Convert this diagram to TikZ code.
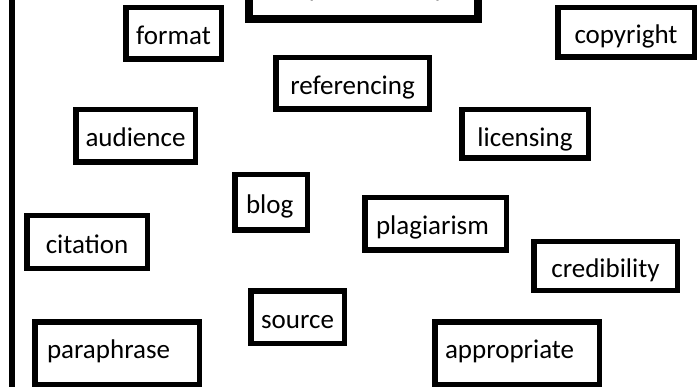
\documentclass[tikz,border=0pt]{standalone}
\usepackage{fontspec}
\setmainfont{Carlito}
\tikzset{
  wordbox/.style={draw=black, line width=5.5pt, fill=white, inner sep=0pt,
    font=\fontsize{27}{31}\selectfont, text=black, text height=22pt, text depth=0pt},
  titlebox/.style={wordbox, line width=8pt},
  leftset/.style={text width=#1, align=left}
}
\begin{document}
\begin{tikzpicture}[x=1pt,y=-1pt]
\useasboundingbox (0,0) rectangle (698,387);
\clip (0,0) rectangle (698,387);
\fill[white] (0,0) rectangle (698,387);
% left rule
\coordinate (ltop) at (12,-5);
\coordinate (lbot) at (12,392);
\draw[line width=6pt] (ltop) -- (lbot);
% title box (cut off at the top)
\node[titlebox, minimum width=229pt, minimum height=72pt] (title) at (363.5,-17) {};
\node[font=\fontsize{27}{31}\selectfont, inner sep=0pt, anchor=base] (titletext) at (363.5,-3) {Key vocabulary};
% word boxes
\node[wordbox, minimum width=95.5pt, minimum height=51.5pt] (format) at (173.5,33.5) {format};
\node[wordbox, minimum width=153.5pt, minimum height=51.5pt] (referencing) at (352.5,83.5) {referencing};
\node[wordbox, minimum width=136.5pt, minimum height=49.5pt] (copyright) at (626,32.5) {copyright};
\node[wordbox, minimum width=119.5pt, minimum height=52.5pt] (audience) at (135.5,136) {audience};
\node[wordbox, minimum width=126.5pt, minimum height=48.5pt, text height=25pt] (licensing) at (525,134) {licensing};
\node[wordbox, minimum width=72.5pt, minimum height=55.5pt, leftset=50pt] (blog) at (271,202.5) {blog};
\node[wordbox, minimum width=120.5pt, minimum height=52.5pt] (citation) at (87,242) {citation};
\node[wordbox, minimum width=141.5pt, minimum height=52.5pt, leftset=119pt] (plagiarism) at (435.5,224) {plagiarism};
\node[wordbox, minimum width=143.5pt, minimum height=48.5pt] (credibility) at (605.5,266) {credibility};
\node[wordbox, minimum width=93.5pt, minimum height=52.5pt] (source) at (297.5,317) {source};
\node[wordbox, minimum width=164.5pt, minimum height=62.5pt, text height=10pt, leftset=140pt] (paraphrase) at (117,353) {paraphrase};
\node[wordbox, minimum width=164.5pt, minimum height=62.5pt, text height=10pt, leftset=144pt] (appropriate) at (517,353) {appropriate};
\end{tikzpicture}
\end{document}
